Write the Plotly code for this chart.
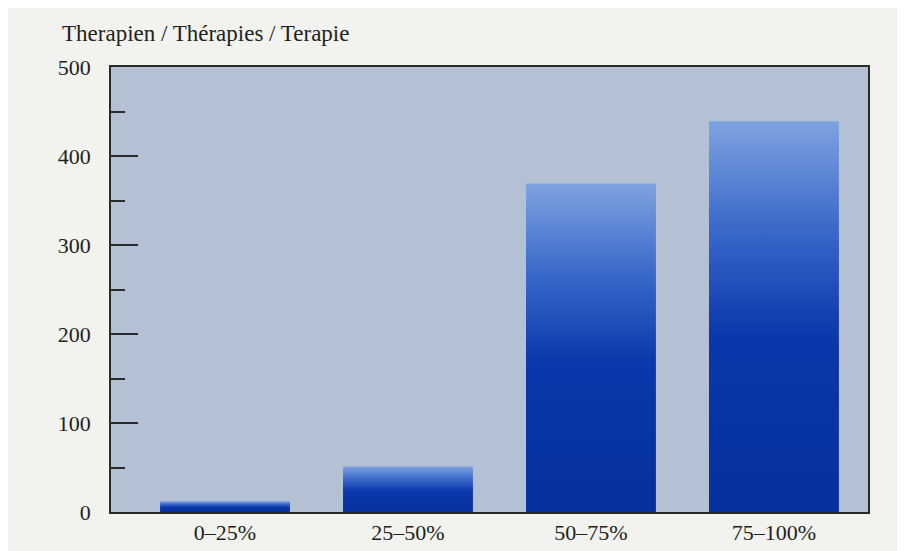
import plotly.graph_objects as go

categories = ["0–25%", "25–50%", "50–75%", "75–100%"]
values = [12, 51, 369, 439]
y_ticks = [0, 100, 200, 300, 400, 500]
title_text = "Therapien / Thérapies / Terapie"

W, H = 897, 543
ML, MR, MT, MB = 103, 37, 59, 39
bar_w = 0.71

fig = go.Figure()
for i, (cat, v) in enumerate(zip(categories, values)):
    x0, x1 = i - bar_w / 2, i + bar_w / 2
    fig.add_trace(go.Scatter(
        x=[x0, x1, x1, x0, x0],
        y=[0, 0, v, v, 0],
        mode="lines",
        line=dict(width=0),
        fill="toself",
        fillgradient=dict(
            type="vertical",
            colorscale=[[0, "#07309c"], [0.45, "#0a37aa"], [0.72, "#3a67c9"], [1, "#7ea3e0"]],
        ),
        name=cat,
        hoverinfo="skip",
        showlegend=False,
    ))

font_family = "Liberation Serif, DejaVu Serif, serif"
fig.update_layout(
    width=W, height=H,
    margin=dict(l=ML, r=MR, t=MT, b=MB, pad=0),
    paper_bgcolor="#f2f2ee",
    plot_bgcolor="#b4c1d4",
    font=dict(family=font_family, size=22, color="#231f20"),
    title=dict(text=title_text, x=54 / W, xanchor="left", xref="container",
               y=1 - 25 / H, yanchor="middle", yref="container",
               font=dict(family=font_family, size=23, color="#231f20")),
    xaxis=dict(
        range=[-0.623, 3.514],
        tickvals=list(range(len(categories))),
        ticktext=categories,
        ticks="", showgrid=False, zeroline=False,
        showline=True, linecolor="#2a2a2a", linewidth=1.5, mirror=True,
        tickfont=dict(size=22),
        ticklabelstandoff=0,
        automargin=False,
    ),
    yaxis=dict(
        range=[0, 500],
        tickvals=y_ticks,
        ticks="inside", ticklen=27, tickwidth=1.5, tickcolor="#2a2a2a",
        minor=dict(ticks="inside", ticklen=14, dtick=50, tickwidth=1.5, tickcolor="#2a2a2a", showgrid=False),
        showgrid=False, zeroline=False,
        showline=True, linecolor="#2a2a2a", linewidth=1.5, mirror=True,
        tickfont=dict(size=22),
        ticklabelstandoff=14,
        automargin=False,
    ),
)

fig.write_html("out.html")
